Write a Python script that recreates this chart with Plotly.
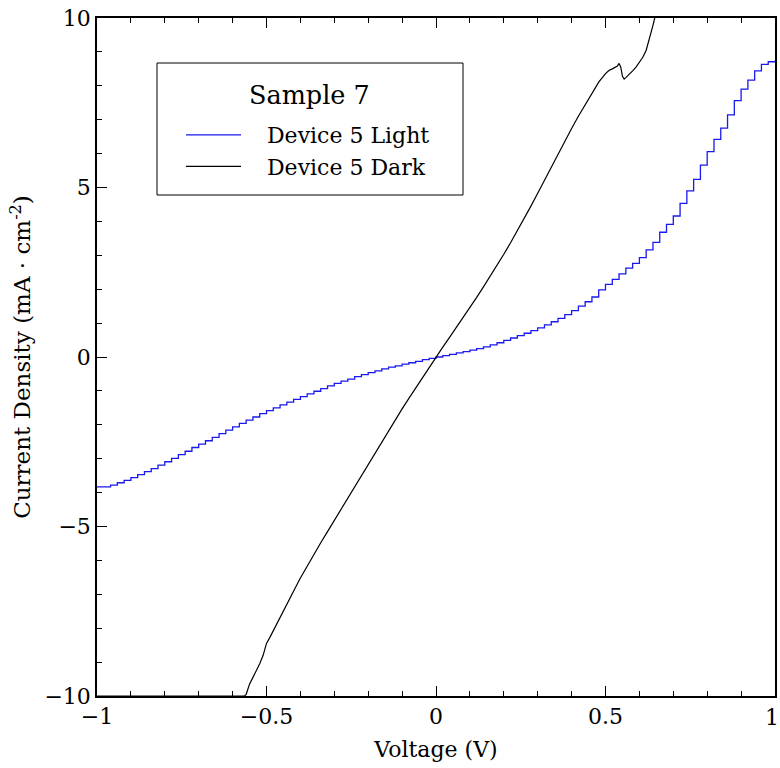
import plotly.graph_objects as go

# Device 5, illuminated sweep (V, mA/cm^2)
light_v = [
    -1.00, -0.98, -0.96, -0.94, -0.92, -0.90, -0.88, -0.86, -0.84, -0.82,
    -0.80, -0.78, -0.76, -0.74, -0.72, -0.70, -0.68, -0.66, -0.64, -0.62,
    -0.60, -0.58, -0.56, -0.54, -0.52, -0.50, -0.48, -0.46, -0.44, -0.42,
    -0.40, -0.38, -0.36, -0.34, -0.32, -0.30, -0.28, -0.26, -0.24, -0.22,
    -0.20, -0.18, -0.16, -0.14, -0.12, -0.10, -0.08, -0.06, -0.04, -0.02,
    0.00, 0.02, 0.04, 0.06, 0.08, 0.10, 0.12, 0.14, 0.16, 0.18,
    0.20, 0.22, 0.24, 0.26, 0.28, 0.30, 0.32, 0.34, 0.36, 0.38,
    0.40, 0.42, 0.44, 0.46, 0.48, 0.50, 0.52, 0.54, 0.56, 0.58,
    0.60, 0.62, 0.64, 0.66, 0.68, 0.70, 0.72, 0.74, 0.76, 0.78,
    0.80, 0.82, 0.84, 0.86, 0.88, 0.90, 0.92, 0.94, 0.96, 0.98,
    1.00,
]
light_j = [
    -3.83, -3.83, -3.78, -3.71, -3.64, -3.56, -3.47, -3.38, -3.29, -3.19,
    -3.09, -2.99, -2.88, -2.78, -2.67, -2.57, -2.47, -2.37, -2.26, -2.16,
    -2.06, -1.96, -1.86, -1.77, -1.67, -1.58, -1.50, -1.41, -1.33, -1.25,
    -1.17, -1.09, -1.01, -0.93, -0.85, -0.78, -0.71, -0.65, -0.58, -0.52,
    -0.46, -0.41, -0.35, -0.30, -0.26, -0.21, -0.17, -0.13, -0.08, -0.04,
    0.00, 0.04, 0.08, 0.12, 0.16, 0.20, 0.25, 0.30, 0.36, 0.42,
    0.49, 0.56, 0.63, 0.70, 0.78, 0.86, 0.95, 1.04, 1.14, 1.25,
    1.37, 1.50, 1.63, 1.77, 1.98, 2.14, 2.29, 2.45, 2.62, 2.76,
    2.93, 3.16, 3.38, 3.68, 3.91, 4.16, 4.53, 4.90, 5.24, 5.66,
    6.06, 6.42, 6.75, 7.14, 7.56, 7.90, 8.17, 8.44, 8.63, 8.71,
    8.74,
]

# Device 5, dark sweep (V, mA/cm^2); flat at -10 where the compliance limit holds
dark_v = [
    -1.00, -0.90, -0.80, -0.70, -0.60, -0.565, -0.56, -0.55, -0.54, -0.53,
    -0.52, -0.51, -0.50, -0.49, -0.48, -0.47, -0.46, -0.45, -0.44, -0.43,
    -0.42, -0.41, -0.40, -0.38, -0.36, -0.34, -0.32, -0.30, -0.28, -0.26,
    -0.24, -0.22, -0.20, -0.18, -0.16, -0.14, -0.12, -0.10, -0.08, -0.06,
    -0.04, -0.02, 0.00, 0.02, 0.04, 0.06, 0.08, 0.10, 0.12, 0.14,
    0.16, 0.18, 0.20, 0.22, 0.24, 0.26, 0.28, 0.30, 0.32, 0.34,
    0.36, 0.38, 0.40, 0.42, 0.44, 0.46, 0.48, 0.50, 0.51, 0.52,
    0.53, 0.535, 0.54, 0.545, 0.55, 0.555, 0.56, 0.57, 0.58, 0.59,
    0.60, 0.61, 0.62, 0.63, 0.64, 0.65, 0.66, 0.68,
]
dark_j = [
    -10.0, -10.0, -10.0, -10.0, -10.0, -10.0, -9.95, -9.65, -9.45, -9.25,
    -9.05, -8.80, -8.45, -8.27, -8.07, -7.87, -7.67, -7.47, -7.28, -7.09,
    -6.90, -6.71, -6.52, -6.16, -5.82, -5.48, -5.15, -4.82, -4.49, -4.15,
    -3.81, -3.47, -3.14, -2.81, -2.48, -2.16, -1.84, -1.53, -1.22, -0.91,
    -0.61, -0.30, 0.00, 0.29, 0.58, 0.87, 1.16, 1.46, 1.76, 2.07,
    2.38, 2.70, 3.03, 3.37, 3.72, 4.08, 4.45, 4.83, 5.22, 5.61,
    5.99, 6.37, 6.74, 7.10, 7.45, 7.79, 8.11, 8.36, 8.45, 8.50,
    8.55, 8.58, 8.66, 8.55, 8.28, 8.20, 8.24, 8.33, 8.44, 8.55,
    8.70, 8.84, 9.05, 9.40, 9.78, 10.20, 10.60, 11.20,
]

x_tick_vals = [-1, -0.5, 0, 0.5]
# the label at the right end of the axis is set flush with the page edge
x_end_value = 1
x_end_label = "1"
y_tick_vals = [-10, -5, 0, 5, 10]

FONT = "DejaVu Serif"
NBSP = "\u00a0"

fig = go.Figure()
fig.add_trace(go.Scatter(
    x=light_v, y=light_j, mode="lines", name=NBSP * 3 + "Device 5 Light",
    line=dict(color="rgb(25,25,240)", width=1.3, shape="hv"),
))
fig.add_trace(go.Scatter(
    x=dark_v, y=dark_j, mode="lines", name=NBSP * 3 + "Device 5 Dark",
    line=dict(color="black", width=1.2),
))

axis_common = dict(
    showgrid=False, zeroline=False, showline=True, linecolor="black",
    linewidth=1.5, ticks="inside", ticklen=10, tickwidth=1, tickcolor="black",
    tickfont=dict(family=FONT, size=22, color="black"), automargin=False,
    ticklabeloverflow="allow",
)

fig.update_xaxes(
    range=[-1, 1], tickvals=x_tick_vals, mirror="ticks",
    minor=dict(dtick=0.1, ticks="inside", ticklen=5, tickcolor="black"),
    title=dict(text="Voltage (V)", font=dict(family=FONT, size=22, color="black"),
               standoff=13),
    **axis_common,
)
fig.update_yaxes(
    range=[-10, 10], tickvals=y_tick_vals, mirror=True,
    minor=dict(dtick=1, ticks="inside", ticklen=5, tickcolor="black"),
    title=dict(text="Current Density (mA · cm<sup>-2</sup>)",
               font=dict(family=FONT, size=23, color="black"), standoff=7),
    **axis_common,
)

PLOT_L, PLOT_B, PLOT_W, PLOT_H = 97, 696, 678, 678


def px_x(p):
    return (p - PLOT_L) / PLOT_W


def px_y(p):
    return (PLOT_B - p) / PLOT_H


fig.add_annotation(text=x_end_label, xref="x", yref="paper",
                   x=x_end_value, y=px_y(717), xanchor="right", yanchor="middle",
                   xshift=5, showarrow=False, borderpad=0,
                   font=dict(family=FONT, size=22, color="black"))

# legend frame and heading
fig.add_shape(type="rect", xref="paper", yref="paper",
              x0=px_x(157), x1=px_x(463), y0=px_y(195), y1=px_y(63),
              line=dict(color="black", width=1), fillcolor="rgba(0,0,0,0)")
fig.add_annotation(text="Sample 7", xref="paper", yref="paper",
                   x=px_x(309), y=px_y(95), xanchor="center", yanchor="middle",
                   showarrow=False, font=dict(family=FONT, size=25.5, color="black"))

fig.update_layout(
    width=780, height=768,
    margin=dict(l=PLOT_L, r=5, t=18, b=72),
    paper_bgcolor="white", plot_bgcolor="white",
    font=dict(family=FONT, color="black"),
    showlegend=True,
    legend=dict(
        x=px_x(181), y=px_y(114), xanchor="left", yanchor="top",
        bgcolor="rgba(0,0,0,0)", borderwidth=0,
        font=dict(family=FONT, size=22, color="black"),
        itemwidth=55, tracegroupgap=0,
    ),
)

fig.write_html("out.html")
